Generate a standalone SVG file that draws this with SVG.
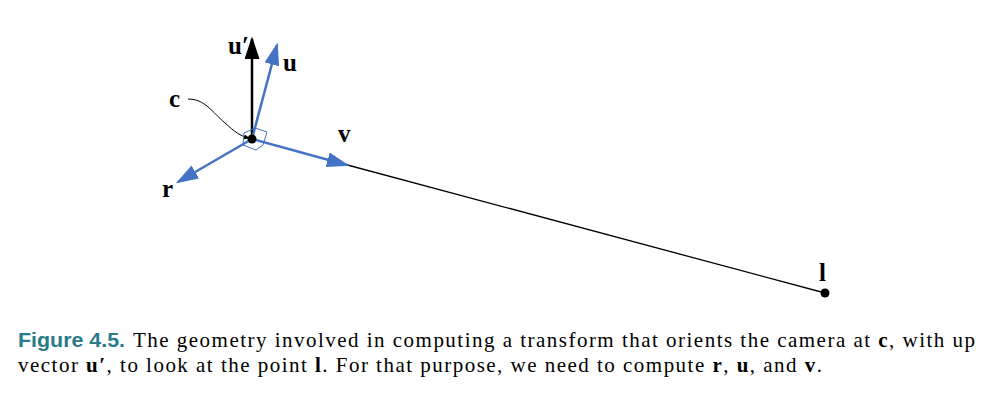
<svg xmlns="http://www.w3.org/2000/svg" width="993" height="401" viewBox="0 0 993 401">
<style>
.lbl{font-family:"Liberation Serif",serif;font-weight:bold;font-size:25px;fill:#000}
.cap{font-family:"Liberation Serif",serif;font-size:21px;fill:#000}
.fig{font-family:"Liberation Sans",sans-serif;font-weight:bold;fill:#2a7a8c}
.b{font-weight:bold}
.blue{stroke:#4472c4;stroke-width:2.5;fill:none}
</style>
<defs>
<marker id="ab" markerWidth="9" markerHeight="6" refX="8" refY="3" orient="auto" markerUnits="strokeWidth"><path d="M0,0 L9,3 L0,6 Z" fill="#4472c4"/></marker>
<marker id="ak" markerWidth="9" markerHeight="6" refX="8" refY="3" orient="auto" markerUnits="strokeWidth"><path d="M0,0 L9,3 L0,6 Z" fill="#000"/></marker>
<marker id="as" markerWidth="6" markerHeight="5" refX="5" refY="2.5" orient="auto" markerUnits="strokeWidth"><path d="M0,0 L6,2.5 L0,5 Z" fill="#000"/></marker>
</defs>
<g id="connectors">
<line x1="340" y1="163" x2="825" y2="293" stroke="#000" stroke-width="1.3"/>
<line x1="252" y1="139" x2="252" y2="39" stroke="#000" stroke-width="2.5" marker-end="url(#ak)"/>
<line x1="252" y1="139" x2="277" y2="45" class="blue" marker-end="url(#ab)"/>
<line x1="252" y1="139" x2="347" y2="165" class="blue" marker-end="url(#ab)"/>
<line x1="252" y1="139" x2="178" y2="182" class="blue" marker-end="url(#ab)"/>
<path d="M188,99 C205,99 212,112 225,123 C235,132 240,136 249,138" fill="none" stroke="#000" stroke-width="1" marker-end="url(#as)"/>
</g>
<g id="camera">
<polygon points="244,133 255,128 267,132 263,145 256,150 243,145" fill="none" stroke="#4472c4" stroke-width="1"/>
<circle cx="252" cy="139" r="4.5" fill="#000"/>
</g>
<g id="point-l"><circle cx="825" cy="293" r="4.5" fill="#000"/></g>
<g id="labels">
<text class="lbl" x="228" y="54">u′</text>
<text class="lbl" x="283" y="71">u</text>
<text class="lbl" x="169" y="107">c</text>
<text class="lbl" x="338" y="142">v</text>
<text class="lbl" x="162" y="197">r</text>
<text class="lbl" x="819" y="281">l</text>
</g>
<g id="caption">
<text x="18" y="347" class="fig" font-size="20.5px" textLength="107" lengthAdjust="spacingAndGlyphs">Figure 4.5.</text>
<text class="cap" x="133" y="347" textLength="842" lengthAdjust="spacing">The geometry involved in computing a transform that orients the camera at <tspan class="b">c</tspan>, with up</text>
<text class="cap" x="18" y="372" textLength="804" lengthAdjust="spacing">vector <tspan class="b">u′</tspan>, to look at the point <tspan class="b">l</tspan>. For that purpose, we need to compute <tspan class="b">r</tspan>, <tspan class="b">u</tspan>, and <tspan class="b">v</tspan>.</text>
</g>
</svg>
